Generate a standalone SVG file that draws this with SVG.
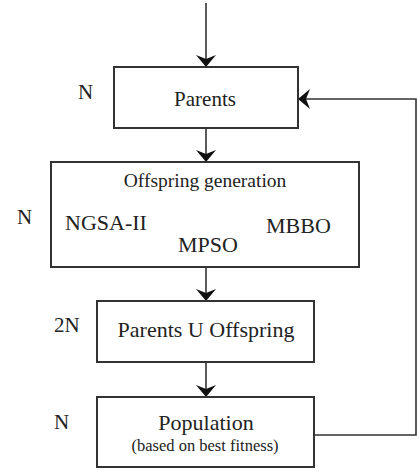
<svg xmlns="http://www.w3.org/2000/svg" width="417" height="471" viewBox="0 0 417 471">
<defs>
<marker id="ah" viewBox="0 0 12 20" refX="12" refY="10" markerWidth="12" markerHeight="20" markerUnits="userSpaceOnUse" orient="auto">
<path d="M0,0 L12,10 L0,20 L4,10 Z" fill="#111"/>
</marker>
</defs>
<style>
rect{fill:#fff;stroke:#333;stroke-width:2}
text{font-family:"Liberation Serif","Times New Roman",serif;fill:#222;font-size:22px}
.c{text-anchor:middle}
.s21{font-size:21px}
.s19{font-size:19.5px}
.s16{font-size:16.5px}
.con line,.con path{stroke:#333;stroke-width:1.6;fill:none}
</style>
<g class="con">
<line x1="206" y1="3" x2="206" y2="67" marker-end="url(#ah)"/>
<line x1="206" y1="128" x2="206" y2="162" marker-end="url(#ah)"/>
<line x1="206" y1="267" x2="206" y2="301" marker-end="url(#ah)"/>
<line x1="206" y1="362" x2="206" y2="397" marker-end="url(#ah)"/>
<path d="M314,435 H416 V99 H298" marker-end="url(#ah)"/>
</g>
<g id="parents">
<rect x="114" y="67" width="184" height="61"/>
<text class="c s21" x="205" y="106">Parents</text>
</g>
<g id="offspring">
<rect x="51" y="162" width="308" height="105"/>
<text class="c s19" x="205" y="187">Offspring generation</text>
<text x="65" y="230">NGSA-II</text>
<text x="178" y="252">MPSO</text>
<text x="266" y="233">MBBO</text>
</g>
<g id="union">
<rect x="97" y="301" width="217" height="61"/>
<text class="c" x="206" y="337">Parents U Offspring</text>
</g>
<g id="population">
<rect x="97" y="397" width="217" height="70"/>
<text class="c" x="206" y="430">Population</text>
<text class="c s16" x="205" y="451">(based on best fitness)</text>
</g>
<g id="labels">
<text class="s21" x="78" y="99">N</text>
<text class="s21" x="17" y="224">N</text>
<text class="s21" x="54" y="332">2N</text>
<text class="s21" x="54" y="429">N</text>
</g>
</svg>
